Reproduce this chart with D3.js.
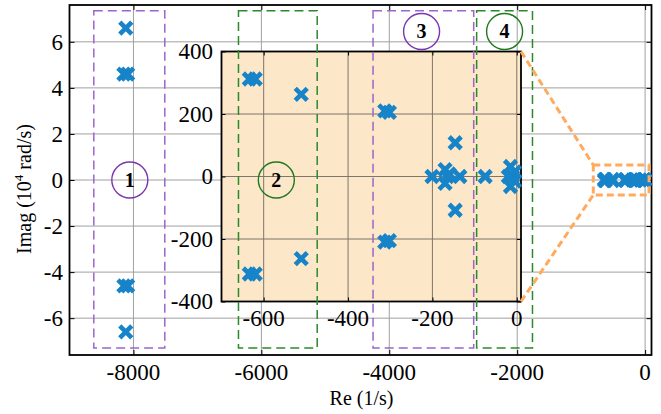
<!DOCTYPE html>
<html><head><meta charset="utf-8">
<script src="https://cdn.jsdelivr.net/npm/d3@7"></script>
<style>
html,body{margin:0;padding:0;background:#fff;}
</style></head>
<body><svg id="c" width="661" height="414"></svg>
<script>
// ---- data ----
const xTicksMain = [-8000, -6000, -4000, -2000, 0];
const yTicksMain = [-6, -4, -2, 0, 2, 4, 6];
const xTicksInset = [-600, -400, -200, 0];
const yTicksInset = [-400, -200, 0, 200, 400];

// group 1 poles: Re (1/s), Imag (1e4 rad/s)
const farRe = [-8120, -8150, -8090, -8150, -8090, -8120];
const farIm = [6.6, 4.6, 4.6, -4.6, -4.6, -6.6];

// poles near origin: Re (1/s), Imag (rad/s)
const nearRe = [-634, -620, -634, -620, -511, -511, -313, -302, -313, -302,
                -146, -146, -201, -170, -165, -170, -160, -135, -75,
                -15, -10, -15, -5, -5, -20];
const nearIm = [312, 312, -312, -312, 263, -263, 210, 205, -210, -205,
                108, -108, 0, 22, 0, -22, 8, 0, 0,
                32, 0, -32, 15, -15, 0];

// annotation zones (main axis coords)
const zoneLabels = ["1", "2", "3", "4"];
const zoneX0 = [-8620, -6358, -4254, -2634];
const zoneX1 = [-7510, -5127, -2680, -1761];
const zoneCx = [-8057, -5766, -3495, -2197];
const zoneCy = [0, 0, 6.45, 6.45];

// ---- drawing ----
const svg = d3.select("#c");
const mL = 69.5, mR = 651.5, mT = 5, mB = 355;
const x = d3.scaleLinear().domain([-9000, 100]).range([mL, mR]);
const y = d3.scaleLinear().domain([-7.6, 7.6]).range([mB, mT]);

const blue = "#1784c9";
const purpleBox = "#9a66cc", purpleCirc = "#7a35b0";
const greenBox = "#2a8a2a", greenCirc = "#1f7a1f";
const orange = "#ffaa5c";
const font = "Liberation Serif";
const TFS = 23;

function cross(g, px, py) {
  const s = 6;
  g.append("path")
    .attr("d", `M${px - s},${py - s}L${px + s},${py + s}M${px - s},${py + s}L${px + s},${py - s}`)
    .attr("stroke", blue).attr("stroke-width", 4.6).attr("fill", "none");
}
function label(g, tx, ty, s, anchor) {
  g.append("text").attr("x", tx).attr("y", ty).attr("text-anchor", anchor)
    .attr("font-family", font).attr("font-size", TFS).attr("fill", "#000").text(s);
}

// main grid
const gMain = svg.append("g");
gMain.selectAll(".vg").data(xTicksMain).enter().append("line")
  .attr("x1", d => x(d)).attr("x2", d => x(d)).attr("y1", mT).attr("y2", mB)
  .attr("stroke", "#a0a0a0").attr("stroke-width", 1);
gMain.selectAll(".hg").data(yTicksMain).enter().append("line")
  .attr("x1", mL).attr("x2", mR).attr("y1", d => y(d)).attr("y2", d => y(d))
  .attr("stroke", "#a0a0a0").attr("stroke-width", 1);

// main axes (ticks inside)
const axB = d3.axisBottom(x).tickValues(xTicksMain).tickSize(-5).tickFormat("");
const axT = d3.axisTop(x).tickValues(xTicksMain).tickSize(-5).tickFormat("");
const axL = d3.axisLeft(y).tickValues(yTicksMain).tickSize(-5).tickFormat("");
const axR = d3.axisRight(y).tickValues(yTicksMain).tickSize(-5).tickFormat("");
function styleAxis(g) {
  g.select(".domain").remove();
  g.selectAll("text").remove();
  g.selectAll("line").attr("stroke", "#000").attr("stroke-width", 1);
}
svg.append("g").attr("transform", `translate(0,${mB})`).call(axB).call(styleAxis);
svg.append("g").attr("transform", `translate(0,${mT})`).call(axT).call(styleAxis);
svg.append("g").attr("transform", `translate(${mL},0)`).call(axL).call(styleAxis);
svg.append("g").attr("transform", `translate(${mR},0)`).call(axR).call(styleAxis);
svg.append("rect").attr("x", mL).attr("y", mT).attr("width", mR - mL).attr("height", mB - mT)
  .attr("fill", "none").attr("stroke", "#000").attr("stroke-width", 1.8);
const gLab = svg.append("g");
xTicksMain.forEach(v => label(gLab, x(v), 380, String(v), "middle"));
yTicksMain.forEach(v => label(gLab, 63, y(v) + 7.8, String(v), "end"));

// axis titles
svg.append("text").attr("x", (mL + mR) / 2 + 1).attr("y", 405).attr("text-anchor", "middle")
  .attr("font-family", font).attr("font-size", 20).text("Re (1/s)");
const yl = svg.append("text").attr("transform", `translate(31,189) rotate(-90)`).attr("text-anchor", "middle")
  .attr("font-family", font).attr("font-size", 20);
yl.append("tspan").text("Imag (10");
yl.append("tspan").attr("dy", -8).attr("font-size", 13).text("4");
yl.append("tspan").attr("dy", 8).text(" rad/s)");

// main markers
const gm = svg.append("g");
farRe.forEach((r, i) => cross(gm, x(r), y(farIm[i])));
nearRe.forEach((r, i) => cross(gm, x(r), y(nearIm[i] / 1e4)));

// ---- inset ----
const iL = 221.5, iR = 521, iT = 51.5, iB = 301.5;
const xi = d3.scaleLinear().domain([-700, 10]).range([iL, iR]);
const yi = d3.scaleLinear().domain([-400, 400]).range([iB, iT]);
const gi = svg.append("g");
gi.append("rect").attr("x", iL).attr("y", iT).attr("width", iR - iL).attr("height", iB - iT).attr("fill", "#fce7c9");
gi.selectAll(".ivg").data(xTicksInset).enter().append("line")
  .attr("x1", d => xi(d)).attr("x2", d => xi(d)).attr("y1", iT).attr("y2", iB)
  .attr("stroke", "#7f7568").attr("stroke-width", 1);
gi.selectAll(".ihg").data(yTicksInset).enter().append("line")
  .attr("x1", iL).attr("x2", iR).attr("y1", d => yi(d)).attr("y2", d => yi(d))
  .attr("stroke", "#7f7568").attr("stroke-width", 1);
const iaB = d3.axisBottom(xi).tickValues(xTicksInset).tickSize(-4).tickFormat("");
const iaT = d3.axisTop(xi).tickValues(xTicksInset).tickSize(-4).tickFormat("");
const iaL = d3.axisLeft(yi).tickValues(yTicksInset).tickSize(-4).tickFormat("");
const iaR = d3.axisRight(yi).tickValues(yTicksInset).tickSize(-4).tickFormat("");
gi.append("g").attr("transform", `translate(0,${iB})`).call(iaB).call(styleAxis);
gi.append("g").attr("transform", `translate(0,${iT})`).call(iaT).call(styleAxis);
gi.append("g").attr("transform", `translate(${iL},0)`).call(iaL).call(styleAxis);
gi.append("g").attr("transform", `translate(${iR},0)`).call(iaR).call(styleAxis);
gi.append("rect").attr("x", iL).attr("y", iT).attr("width", iR - iL).attr("height", iB - iT)
  .attr("fill", "none").attr("stroke", "#000").attr("stroke-width", 1.8);
xTicksInset.forEach(v => label(gi, xi(v), 326, String(v), "middle"));
yTicksInset.forEach(v => label(gi, 213, yi(v) + 7.8, String(v), "end"));
nearRe.forEach((r, i) => cross(gi, xi(r), yi(nearIm[i])));

// ---- zones ----
const yTop = 7.35, yBot = -7.3;
zoneLabels.forEach((lab, i) => {
  const col = (i % 2 === 0) ? purpleBox : greenBox;
  const ccol = (i % 2 === 0) ? purpleCirc : greenCirc;
  svg.append("rect").attr("x", x(zoneX0[i])).attr("y", y(yTop))
    .attr("width", x(zoneX1[i]) - x(zoneX0[i])).attr("height", y(yBot) - y(yTop))
    .attr("fill", "none").attr("stroke", col).attr("stroke-width", 1.5).attr("stroke-dasharray", "9,5");
  svg.append("circle").attr("cx", x(zoneCx[i])).attr("cy", y(zoneCy[i])).attr("r", 18)
    .attr("fill", "none").attr("stroke", ccol).attr("stroke-width", 1.4);
  svg.append("text").attr("x", x(zoneCx[i])).attr("y", y(zoneCy[i]) + 7).attr("text-anchor", "middle")
    .attr("font-family", font).attr("font-weight", "bold").attr("font-size", 20).text(lab);
});

// ---- zoom box & connectors ----
const bx0 = x(-810), bx1 = x(62), by0 = y(0.65), by1 = y(-0.65);
svg.append("rect").attr("x", bx0).attr("y", by0).attr("width", bx1 - bx0).attr("height", by1 - by0)
  .attr("fill", "none").attr("stroke", orange).attr("stroke-width", 3).attr("stroke-dasharray", "7,4");
svg.append("line").attr("x1", iR).attr("y1", iT).attr("x2", bx0).attr("y2", by0)
  .attr("stroke", orange).attr("stroke-width", 3).attr("stroke-dasharray", "7,4");
svg.append("line").attr("x1", iR).attr("y1", iB).attr("x2", bx0).attr("y2", by1)
  .attr("stroke", orange).attr("stroke-width", 3).attr("stroke-dasharray", "7,4");
</script></body></html>
